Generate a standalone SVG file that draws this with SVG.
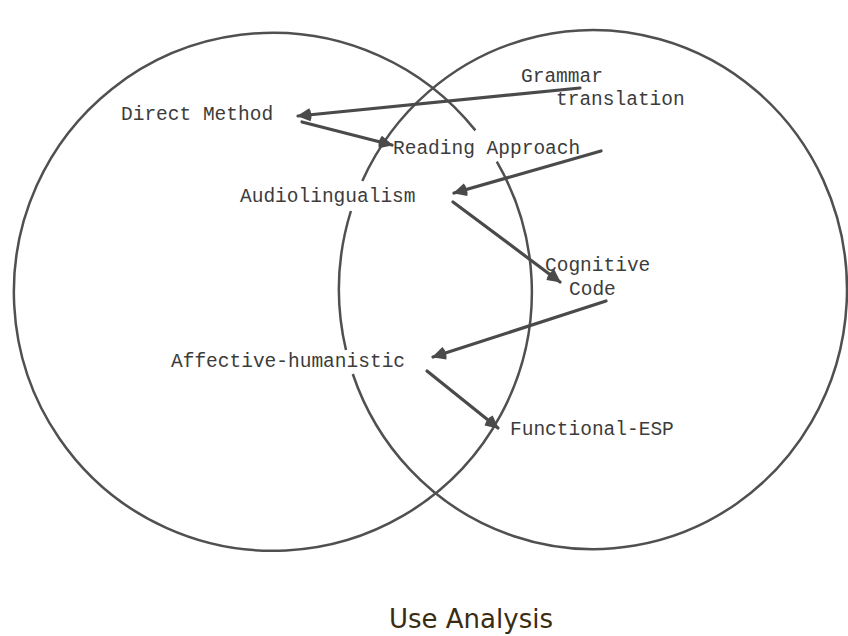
<svg xmlns="http://www.w3.org/2000/svg" width="848" height="636" viewBox="0 0 848 636">
<defs>
<style>
.lbl{font-family:"Liberation Mono","Courier New",monospace;font-size:19.5px;fill:#3c3c3c}
.ring{fill:none;stroke:#505050;stroke-width:2.5}
.arr{fill:none;stroke:#4a4a4a;stroke-width:3.2;stroke-linecap:round;marker-end:url(#head)}
.title{font-family:"DejaVu Sans",Verdana,sans-serif;font-size:26px;fill:#3a2c12}
</style>
<marker id="head" markerUnits="userSpaceOnUse" markerWidth="20" markerHeight="18" viewBox="-15 -9 17 18" refX="0" refY="0" orient="auto">
<path d="M1,0 L-12,-6.5 Q-15,0 -12,6.5 Z" fill="#4a4a4a"/>
</marker>
</defs>
<rect width="848" height="636" fill="#ffffff"/>
<g id="circles">
<path id="left-circle" class="ring" d="M475.4,130.4 A259,259 0 1 0 496.8,161.7"/>
<path id="right-circle" class="ring" d="M352.8,374 A254,259.5 0 1 0 362.3,181 M350.9,211 A254,259.5 0 0 0 346,350"/>
</g>
<g id="connectors">
<line class="arr" x1="580" y1="88" x2="298" y2="116"/>
<line class="arr" x1="302" y1="122" x2="392" y2="145"/>
<line class="arr" x1="601" y1="151" x2="454" y2="193"/>
<line class="arr" x1="453" y1="202" x2="560" y2="282"/>
<line class="arr" x1="606" y1="301" x2="433" y2="357"/>
<line class="arr" x1="427" y1="371" x2="498" y2="428"/>
</g>
<g id="grammar-translation"><text class="lbl" x="521" y="82">Grammar</text><text class="lbl" x="556" y="105">translation</text></g>
<g id="direct-method"><text class="lbl" x="121" y="120">Direct Method</text></g>
<g id="reading-approach"><text class="lbl" x="393" y="154">Reading Approach</text></g>
<g id="audiolingualism"><text class="lbl" x="240" y="202">Audiolingualism</text></g>
<g id="cognitive-code"><text class="lbl" x="545" y="271">Cognitive</text><text class="lbl" x="569" y="295">Code</text></g>
<g id="affective-humanistic"><text class="lbl" x="171" y="367">Affective-humanistic</text></g>
<g id="functional-esp"><text class="lbl" x="510" y="435">Functional-ESP</text></g>
<g id="caption"><text class="title" x="389" y="628">Use Analysis</text></g>
</svg>
